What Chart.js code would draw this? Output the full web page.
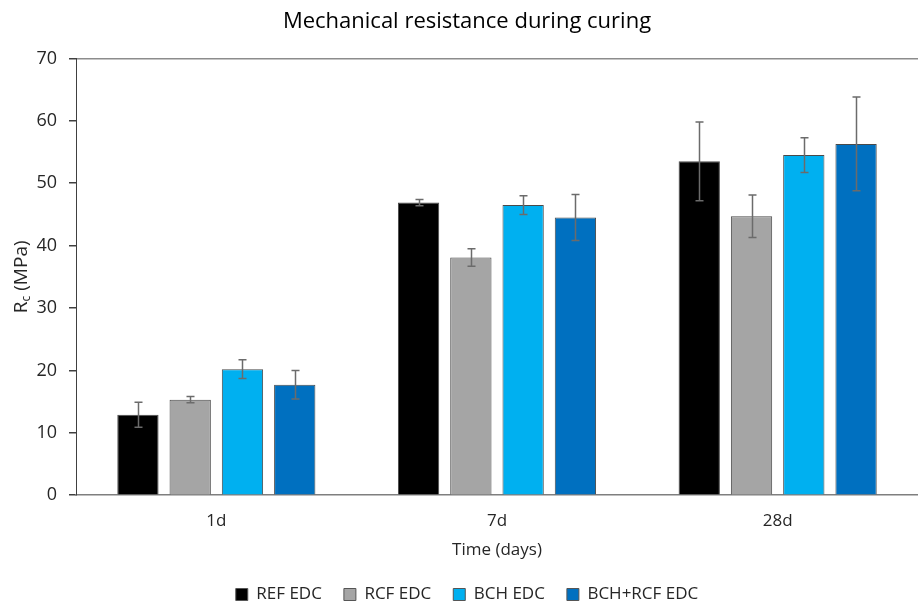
<!DOCTYPE html>
<html>
<head>
<meta charset="utf-8">
<script src="https://cdn.jsdelivr.net/npm/chart.js@4"></script>
<style>
  html, body { margin: 0; padding: 0; background: #ffffff; overflow: hidden; }
  #wrap { width: 918px; height: 603px; overflow: hidden; }
  canvas { display: block; }
</style>
</head>
<body>
<div id="wrap"><canvas id="c" width="918" height="613"></canvas></div>
<script>
// Curing ages
const categories = ['1d', '7d', '28d'];

// Compressive strength Rc (MPa), mean values
const refEDC    = [12.9, 46.9, 53.5];
const rcfEDC    = [15.3, 38.1, 44.7];
const bchEDC    = [20.2, 46.5, 54.5];
const bchRcfEDC = [17.7, 44.5, 56.3];

// Standard deviations
const refErr    = [2.0, 0.5, 6.3];
const rcfErr    = [0.5, 1.4, 3.4];
const bchErr    = [1.5, 1.5, 2.8];
const bchRcfErr = [2.3, 3.7, 7.5];

// Y axis ticks
const yTicks = [0, 10, 20, 30, 40, 50, 60, 70];

const FONT = '"Open Sans", Lato, sans-serif';

// Draws ± error whiskers from each dataset's `errors` array
const errorBars = {
  id: 'errorBars',
  afterDatasetsDraw(chart) {
    const ctx = chart.ctx;
    const y = chart.scales.y;
    ctx.save();
    ctx.strokeStyle = '#6b6b6b';
    ctx.lineWidth = 1.5;
    chart.data.datasets.forEach((ds, i) => {
      const meta = chart.getDatasetMeta(i);
      meta.data.forEach((bar, j) => {
        const v = ds.data[j], e = ds.errors[j];
        const x = Math.round(bar.x) + 0.5;
        const yt = y.getPixelForValue(v + e);
        const yb = y.getPixelForValue(v - e);
        ctx.beginPath();
        ctx.moveTo(x, yt); ctx.lineTo(x, yb);
        ctx.moveTo(x - 4, yt); ctx.lineTo(x + 4, yt);
        ctx.moveTo(x - 4, yb); ctx.lineTo(x + 4, yb);
        ctx.stroke();
      });
    });
    ctx.restore();
  }
};

// Rotated y-axis title with subscript "c"
const yTitle = {
  id: 'yTitle',
  afterDraw(chart) {
    const ctx = chart.ctx;
    const a = chart.chartArea;
    const cy = (a.top + a.bottom) / 2;
    ctx.save();
    ctx.translate(27, cy);
    ctx.rotate(-Math.PI / 2);
    ctx.fillStyle = '#262626';
    ctx.textBaseline = 'alphabetic';
    const big = '19px ' + FONT, small = '12px ' + FONT;
    ctx.font = big; const w1 = ctx.measureText('R').width;
    ctx.font = small; const w2 = ctx.measureText('c').width;
    ctx.font = big; const w3 = ctx.measureText(' (MPa)').width;
    let x = -(w1 + w2 + w3) / 2;
    ctx.font = big; ctx.fillText('R', x, 0); x += w1;
    ctx.font = small; ctx.fillText('c', x, 3); x += w2;
    ctx.font = big; ctx.fillText(' (MPa)', x, 0);
    ctx.restore();
  }
};

const mk = (label, data, errors, color) => ({
  label, data, errors,
  backgroundColor: color,
  borderColor: '#4a4a4a',
  borderWidth: 1,
  categoryPercentage: 0.745,
  barPercentage: 0.79
});

new Chart(document.getElementById('c'), {
  type: 'bar',
  data: {
    labels: categories,
    datasets: [
      mk('REF EDC', refEDC, refErr, '#000000'),
      mk('RCF EDC', rcfEDC, rcfErr, '#a5a5a5'),
      mk('BCH EDC', bchEDC, bchErr, '#00b0f0'),
      mk('BCH+RCF EDC', bchRcfEDC, bchRcfErr, '#0070c0')
    ]
  },
  options: {
    responsive: false,
    animation: false,
    layout: { padding: { left: 16, right: 0, top: 0, bottom: 0 } },
    plugins: {
      title: {
        display: true,
        text: 'Mechanical resistance during curing',
        color: '#000000',
        font: { family: FONT, size: 22, weight: 'normal' },
        padding: { top: 9, bottom: 23 }
      },
      legend: {
        position: 'bottom',
        labels: {
          color: '#262626',
          font: { family: FONT, size: 17 },
          boxWidth: 12, boxHeight: 12,
          padding: 22,
          generateLabels(chart) {
            return chart.data.datasets.map((ds, i) => ({
              text: ds.label,
              fillStyle: ds.backgroundColor,
              strokeStyle: '#555555',
              lineWidth: 1,
              datasetIndex: i,
              fontColor: '#262626'
            }));
          }
        }
      },
      tooltip: { enabled: false }
    },
    scales: {
      x: {
        grid: { display: false, drawTicks: false },
        border: { display: true, color: '#7f7f7f', width: 1.5 },
        ticks: { color: '#262626', font: { family: FONT, size: 17 }, padding: 16 },
        title: {
          display: true, text: 'Time (days)', color: '#262626',
          font: { family: FONT, size: 17 }, padding: { top: -8, bottom: 4 }
        }
      },
      y: {
        min: 0, max: 70,
        afterBuildTicks(axis) { axis.ticks = yTicks.map(v => ({ value: v })); },
        afterFit(axis) { axis.width = 60; },
        grid: {
          drawOnChartArea: true,
          color: ctx => (ctx.tick && ctx.tick.value === 70) ? '#8c8c8c' : 'rgba(0,0,0,0)',
          lineWidth: 1.5,
          tickColor: '#404040',
          tickLength: 7
        },
        border: { display: true, color: '#404040', width: 1 },
        ticks: { color: '#262626', font: { family: FONT, size: 18 }, padding: 12 }
      }
    }
  },
  plugins: [errorBars, yTitle]
});
</script>
</body>
</html>
